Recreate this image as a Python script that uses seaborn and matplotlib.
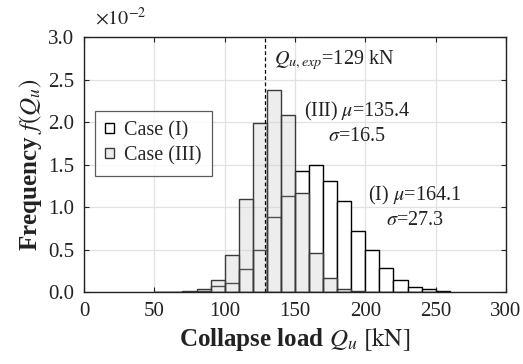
import numpy as np
import pandas as pd
import matplotlib
matplotlib.use("Agg")
import matplotlib.pyplot as plt
import seaborn as sns

# ---- data (frequency in units of 1e-2 per kN, 10 kN bins) ----
bin_lower = [50, 60, 70, 80, 90, 100, 110, 120, 130, 140, 150,
             160, 170, 180, 190, 200, 210, 220, 230, 240, 250]
freq_case1 = [0.0, 0.002, 0.005, 0.015, 0.07, 0.11, 0.27, 0.50, 0.88, 1.13, 1.42,
              1.50, 1.31, 1.07, 0.72, 0.49, 0.28, 0.14, 0.06, 0.03, 0.01]
freq_case3 = [0.0, 0.002, 0.012, 0.03, 0.14, 0.43, 1.09, 1.99, 2.38, 2.08, 1.16,
              0.46, 0.16, 0.04, 0.01, 0.0, 0.0, 0.0, 0.0, 0.0, 0.0]
bin_width = 10
q_exp = 129
x_ticks = [0, 50, 100, 150, 200, 250, 300]
y_ticks = [0.0, 0.5, 1.0, 1.5, 2.0, 2.5, 3.0]

sns.set_theme(style="white")
plt.rcParams['font.family'] = ['Liberation Serif', 'DejaVu Serif']
plt.rcParams['mathtext.fontset'] = 'stix'

edges = list(bin_lower) + [bin_lower[-1] + bin_width]
centers = [b + bin_width / 2 for b in bin_lower]
df = pd.DataFrame({"Q": centers, "f1": freq_case1, "f3": freq_case3})

fig = plt.figure(figsize=(5.23, 3.64), dpi=100)
ax = fig.add_axes([0.1606, 0.1978, 0.8069, 0.7005])

sns.histplot(data=df, x="Q", weights="f1", bins=edges, stat="count", ax=ax,
             facecolor="white", edgecolor="black", linewidth=1.0,
             label="Case (I)")
sns.histplot(data=df, x="Q", weights="f3", bins=edges, stat="count", ax=ax,
             facecolor=(0.82, 0.82, 0.82, 0.38), edgecolor="#3a3a3a", linewidth=1.0,
             label="Case (III)")

ax.axvline(q_exp, color="black", ls=(0, (3, 2)), lw=0.9)

ax.set_xlim(0, 300)
ax.set_ylim(0, 3.0)
ax.set_xticks(x_ticks)
ax.set_yticks(y_ticks)
ax.set_yticklabels([f"{v:.1f}" for v in y_ticks])
ax.grid(True, color="#e2e2e2", lw=0.9)
ax.set_axisbelow(True)
ax.tick_params(direction="in", length=3.5, width=0.8, labelsize=15, pad=7,
               top=True, right=True, bottom=True, left=True, colors="#222222",
               labelcolor="#222222")
for s in ax.spines.values():
    s.set_visible(True)
    s.set_color("#222222")
    s.set_linewidth(1.0)

ax.set_xlabel(r"Collapse load $Q_u$ $\mathrm{[kN]}$", fontsize=18,
              fontweight="bold", color="#222222", labelpad=3)
ax.set_ylabel(r"Frequency $f(Q_u)$", fontsize=18, fontweight="bold",
              color="#222222", labelpad=3)

ax.text(0.026, 1.03, r"$\times10^{-2}$", transform=ax.transAxes, fontsize=14.5,
        ha="left", va="bottom", color="#222222")

ax.text(135, 2.73, r"$Q_{u,exp}$=129 kN", fontsize=14.5, ha="left", va="center",
        color="#222222")
ax.text(194, 1.99, "(III) $\\mu$=135.4\n$\\sigma$=16.5", fontsize=14.5, ha="center",
        va="center", multialignment="center", linespacing=1.25, color="#222222")
ax.text(235, 1.00, "(I) $\\mu$=164.1\n$\\sigma$=27.3", fontsize=14.5, ha="center",
        va="center", multialignment="center", linespacing=1.25, color="#222222")

leg = ax.legend(loc="upper left", bbox_to_anchor=(0.026, 0.71), borderaxespad=0,
                fontsize=14.5, frameon=True, fancybox=False, edgecolor="#333333",
                handlelength=0.45, handleheight=0.4, handletextpad=0.5,
                borderpad=0.5, labelspacing=0.3)
leg.get_frame().set_linewidth(0.9)

fig.savefig("out.png", dpi=100)
